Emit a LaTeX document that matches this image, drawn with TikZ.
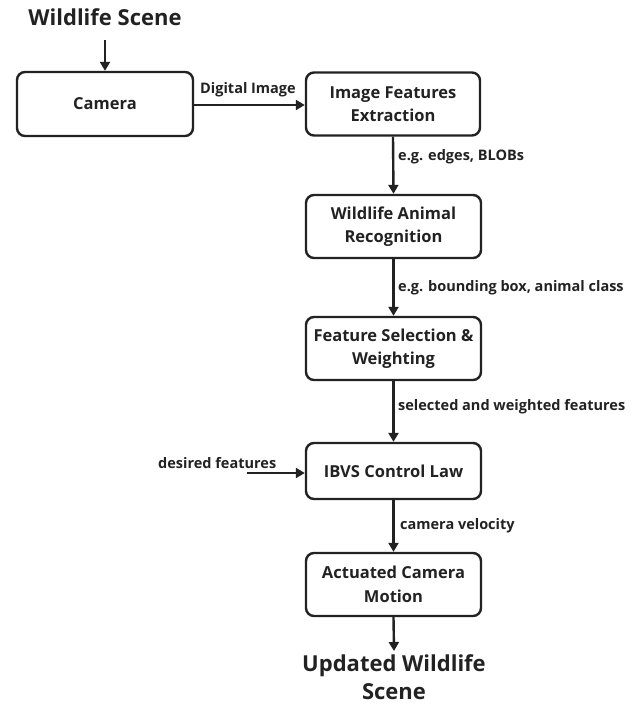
\documentclass[tikz,border=0pt]{standalone}
\usepackage{fontspec}
\setmainfont{Open Sans}
\usetikzlibrary{arrows.meta,positioning}
\definecolor{ink}{HTML}{222222}
\begin{document}
\begin{tikzpicture}[x=1pt,y=-1pt,
  blk/.style={draw=ink,line width=2.4pt,rounded corners=8pt,align=center,
    text=ink,font=\bfseries\fontsize{16.5}{23.5}\selectfont,inner sep=0pt},
  lbl/.style={text=ink,font=\bfseries\fontsize{14.5}{17}\selectfont,inner sep=0pt},
  big/.style={text=ink,font=\bfseries\fontsize{22}{28}\selectfont,inner sep=0pt,align=center},
  arr/.style={draw=ink,line width=2.4pt,-{Triangle[length=9pt,width=10pt]}}]
\useasboundingbox (0,0) rectangle (636,705);
\node[big] (scene) at (105,17) {Wildlife Scene};
\node[blk,minimum width=176pt,minimum height=64pt] (cam) at (105,104) {Camera};
\node[blk,minimum width=174pt,minimum height=63pt] (ife) at (393,104) {Image Features\\Extraction};
\node[blk,minimum width=175pt,minimum height=63pt] (war) at (393.5,226.5) {Wildlife Animal\\Recognition};
\node[blk,minimum width=175pt,minimum height=63pt] (fsw) at (393.5,348.5) {Feature Selection \&\\Weighting};
\node[blk,minimum width=175pt,minimum height=56pt] (ibvs) at (393.5,471) {IBVS Control Law};
\node[blk,minimum width=175pt,minimum height=63pt] (acm) at (393.5,584.5) {Actuated Camera\\Motion};
\node[big] (upd) at (394,677) {Updated Wildlife\\Scene};
\coordinate (st) at (105,40);
\coordinate (df) at (247,473);
\coordinate (ue) at (394,651);
\draw[arr] (st) -- (cam.north);
\draw[arr] (cam.east |- 0,105) -- (ife.west |- 0,105);
\node[lbl,anchor=west] (ldi) at (200,90) {Digital Image};
\draw[arr] (ife.south) -- (war.north);
\node[lbl,anchor=west] (l1) at (398,157) {e.g. edges, BLOBs};
\draw[arr] (war.south) -- (fsw.north);
\node[lbl,anchor=west] (l2) at (398,288) {e.g. bounding box, animal class};
\draw[arr] (fsw.south) -- (ibvs.north);
\node[lbl,anchor=west] (l3) at (398,407) {selected and weighted features};
\draw[arr] (df) -- (ibvs.west |- df);
\node[lbl,anchor=west] (ld) at (158,463) {desired features};
\draw[arr] (ibvs.south) -- (acm.north);
\node[lbl,anchor=west] (l4) at (400,526) {camera velocity};
\draw[arr] (acm.south) -- (ue);
\end{tikzpicture}
\end{document}
